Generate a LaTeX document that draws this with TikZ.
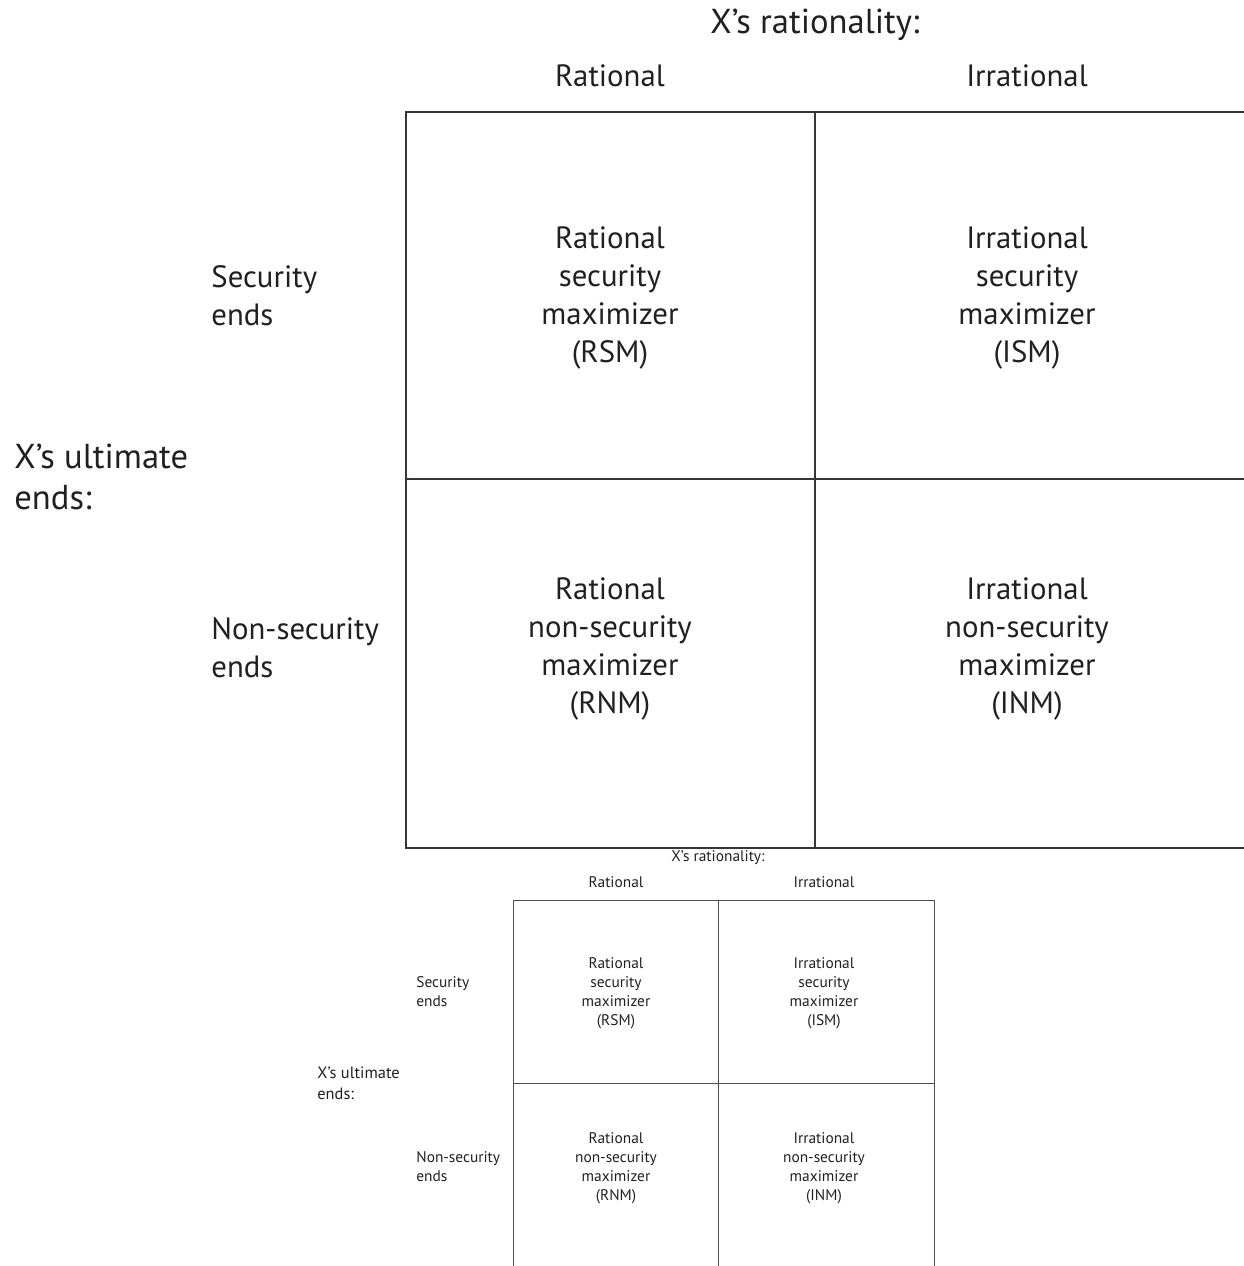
\documentclass[tikz,border=0pt]{standalone}
\usepackage{fontspec}
\setmainfont{PT Sans}
\definecolor{ink}{HTML}{231F20}

\begin{document}
\begin{tikzpicture}[x=0.5pt,y=-0.5pt]
	\tikzstyle{big}=[text=ink,align=center,inner sep=0pt,font=\fontsize{15.4}{19}\selectfont]
	\tikzstyle{bigside}=[big,anchor=west,align=left]
	\tikzstyle{bigtitle}=[text=ink,inner sep=0pt,font=\fontsize{17.3}{20.5}\selectfont]
	\tikzstyle{small}=[text=ink,align=center,inner sep=0pt,font=\fontsize{7.7}{9.5}\selectfont]
	\tikzstyle{smallside}=[small,anchor=west,align=left]
	\tikzstyle{biggrid}=[draw=ink!90,line width=1pt]
	\tikzstyle{smallgrid}=[draw=ink!80,line width=0.5pt]
	\useasboundingbox (0,0) rectangle (1244,1266);
	% large matrix
	\coordinate (BTL) at (406,112);
	\coordinate (BTM) at (815,112);
	\coordinate (BTR) at (1250,112);
	\coordinate (BML) at (406,479);
	\coordinate (BMR) at (1250,479);
	\coordinate (BBL) at (406,848);
	\coordinate (BBM) at (815,848);
	\coordinate (BBR) at (1250,848);
	\draw[biggrid] (BTR) -- (BTL) -- (BBL) -- (BBR);
	\draw[biggrid] (BTM) -- (BBM);
	\draw[biggrid] (BML) -- (BMR);
	\node[bigtitle] (Brat) at (815,25) {X’s rationality:};
	\node[big] (Bcol1) at (610,76) {Rational};
	\node[big] (Bcol2) at (1027,76) {Irrational};
	\node[bigtitle,anchor=west,align=left] (Bult) at (14,477) {X’s ultimate\\ends:};
	\node[bigside] (Brow1) at (211,296) {Security\\ends};
	\node[bigside] (Brow2) at (211,648) {Non-security\\ends};
	\node[big] (Brsm) at (610,298) {Rational\\security\\maximizer\\(RSM)};
	\node[big] (Bism) at (1027,298) {Irrational\\security\\maximizer\\(ISM)};
	\node[big] (Brnm) at (610,649) {Rational\\non-security\\maximizer\\(RNM)};
	\node[big] (Binm) at (1027,649) {Irrational\\non-security\\maximizer\\(INM)};
	% small matrix
	\coordinate (STL) at (513,900);
	\coordinate (STM) at (718,900);
	\coordinate (STR) at (934,900);
	\coordinate (SML) at (513,1083);
	\coordinate (SMR) at (934,1083);
	\coordinate (SBL) at (513,1270);
	\coordinate (SBM) at (718,1270);
	\coordinate (SBR) at (934,1270);
	\draw[smallgrid] (SBL) -- (STL) -- (STR) -- (SBR);
	\draw[smallgrid] (STM) -- (SBM);
	\draw[smallgrid] (SML) -- (SMR);
	\node[small] (Srat) at (718,858) {X’s rationality:};
	\node[small] (Scol1) at (616,882) {Rational};
	\node[small] (Scol2) at (824,882) {Irrational};
	\node[smallside,font=\fontsize{8.2}{10.5}\selectfont] (Sult) at (317,1083) {X’s ultimate\\ends:};
	\node[smallside] (Srow1) at (416,992) {Security\\ends};
	\node[smallside] (Srow2) at (416,1167) {Non-security\\ends};
	\node[small] (Srsm) at (616,993) {Rational\\security\\maximizer\\(RSM)};
	\node[small] (Sism) at (824,993) {Irrational\\security\\maximizer\\(ISM)};
	\node[small] (Srnm) at (616,1168) {Rational\\non-security\\maximizer\\(RNM)};
	\node[small] (Sinm) at (824,1168) {Irrational\\non-security\\maximizer\\(INM)};
\end{tikzpicture}
\end{document}
